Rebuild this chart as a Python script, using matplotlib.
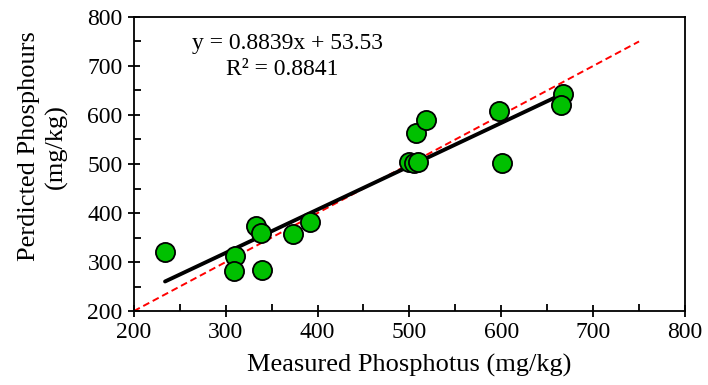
import numpy as np
import matplotlib.pyplot as plt
from matplotlib.ticker import MultipleLocator

medido = [234, 310, 309, 333, 338, 340, 373, 392, 500, 505, 509, 507, 518, 597, 601, 667, 665]
predito = [321, 312, 282, 373, 360, 283, 357, 381, 504, 503, 505, 563, 590, 609, 502, 643, 620]

inclinacao = 0.8839
intercepto = 53.53
r2 = 0.8841

plt.rcParams['font.family'] = ['Liberation Serif', 'DejaVu Serif']

fig = plt.figure(figsize=(7.08, 3.85), dpi=100)
ax = fig.add_axes([0.189, 0.192, 0.7785, 0.764])

# linha 1:1
ax.plot([200, 750], [200, 750], color='red', linestyle='--', linewidth=1.4, dashes=(3.5, 2), zorder=1)

# linha de regressao
xs = np.array([min(medido), max(medido)])
ax.plot(xs, inclinacao * xs + intercepto, color='black', linewidth=2.8, zorder=2, solid_capstyle='round')

ax.scatter(medido, predito, s=190, color='#00c000', edgecolors='black', linewidths=1.3, zorder=3)

ax.text(367, 746, f"y = {inclinacao}x + {intercepto}", fontsize=17, ha='center', va='center')
ax.text(362, 692, f"R² = {r2}", fontsize=17, ha='center', va='center')

ax.set_xlim(200, 800)
ax.set_ylim(200, 800)
ax.xaxis.set_major_locator(MultipleLocator(100))
ax.xaxis.set_minor_locator(MultipleLocator(50))
ax.yaxis.set_major_locator(MultipleLocator(100))
ax.yaxis.set_minor_locator(MultipleLocator(50))
ax.tick_params(which='major', direction='inout', length=9, width=1.3, labelsize=17)
ax.tick_params(which='minor', direction='in', length=5, width=1.3)
for s in ax.spines.values():
    s.set_linewidth(1.3)

ax.set_xlabel("Measured Phosphotus (mg/kg)", fontsize=19, labelpad=8)
ax.set_ylabel("Perdicted Phosphours\n(mg/kg)", fontsize=19, linespacing=1.25)
ax.yaxis.set_label_coords(-0.12, 0.56)

plt.savefig("out.png", dpi=100)
